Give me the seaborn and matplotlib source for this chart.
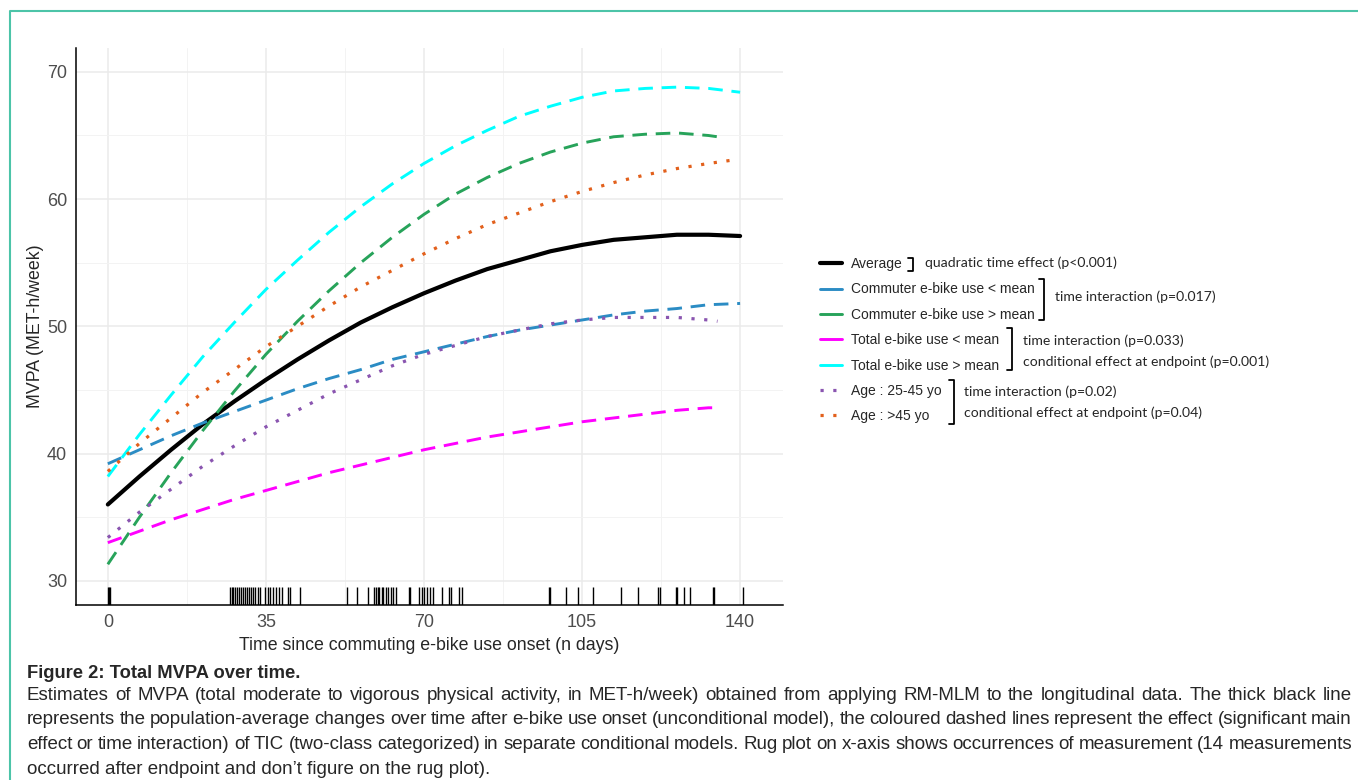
import numpy as np
import pandas as pd
import seaborn as sns
import matplotlib.pyplot as plt
from matplotlib.lines import Line2D

# values (MVPA, MET-h/week)
days = [0, 7, 14, 21, 28, 35, 42, 49, 56, 63, 70, 77, 84, 91, 98, 105, 112, 119, 126, 133, 140]
days_135 = [0, 7, 14, 21, 28, 35, 42, 49, 56, 63, 70, 77, 84, 91, 98, 105, 112, 119, 126, 133, 135]
days_139 = [0, 7, 14, 21, 28, 35, 42, 49, 56, 63, 70, 77, 84, 91, 98, 105, 112, 119, 126, 133, 139]

average = [36.0, 38.2, 40.3, 42.3, 44.1, 45.8, 47.4, 48.9, 50.3, 51.5, 52.6,
           53.6, 54.5, 55.2, 55.9, 56.4, 56.8, 57.0, 57.2, 57.2, 57.1]
commuter_low = [39.2, 40.3, 41.4, 42.4, 43.3, 44.2, 45.1, 45.9, 46.6, 47.4, 48.0,
                48.6, 49.2, 49.7, 50.1, 50.5, 50.9, 51.2, 51.4, 51.7, 51.8]
commuter_high = [31.3, 35.0, 38.5, 41.8, 44.9, 47.8, 50.4, 52.8, 55.0, 57.0, 58.8,
                 60.4, 61.7, 62.8, 63.7, 64.4, 64.9, 65.1, 65.2, 65.0, 64.9]
total_low = [33.0, 33.9, 34.8, 35.6, 36.4, 37.1, 37.8, 38.5, 39.1, 39.7, 40.3,
             40.8, 41.3, 41.7, 42.1, 42.5, 42.8, 43.1, 43.4, 43.6, 43.6]
total_high = [38.2, 41.5, 44.6, 47.6, 50.3, 52.9, 55.2, 57.4, 59.4, 61.2, 62.8,
              64.2, 65.4, 66.5, 67.3, 68.0, 68.5, 68.7, 68.8, 68.7, 68.4]
age_25_45 = [33.4, 35.4, 37.2, 39.0, 40.6, 42.1, 43.4, 44.7, 45.8, 46.9, 47.8,
             48.5, 49.2, 49.7, 50.2, 50.5, 50.7, 50.7, 50.7, 50.5, 50.4]
age_45 = [38.6, 40.8, 42.8, 44.8, 46.6, 48.4, 50.0, 51.6, 53.1, 54.4, 55.7,
          56.9, 58.0, 58.9, 59.8, 60.6, 61.3, 61.9, 62.4, 62.8, 63.1]

# measurement occasions (rug)
rug_days = [0, 0.2, 0.4,
            27.0, 27.4, 27.8, 28.2, 28.6, 29.0, 29.5, 29.9, 30.3, 30.8, 31.2, 31.6,
            32.1, 32.6, 33.2, 33.8, 34.8, 35.5, 36.0, 36.6, 37.2, 37.8, 38.5, 39.9,
            40.3, 42.5,
            52.9, 55.1, 57.5, 59.0, 59.4, 59.8, 60.1, 60.6, 61.0, 61.6, 62.0, 62.7,
            63.1, 63.7, 66.7, 66.9, 69.0, 69.5, 70.1, 70.6, 71.3, 72.1, 73.9, 75.5,
            75.9, 77.8, 78.4,
            97.6, 97.9, 101.4, 104.2, 107.5, 113.6, 117.3, 121.9, 122.3, 125.7, 126.0,
            127.6, 128.9, 133.9, 134.2, 140.7]

labels = ["Average", "Commuter e-bike use < mean", "Commuter e-bike use > mean",
          "Total e-bike use < mean", "Total e-bike use > mean",
          "Age : 25-45 yo", "Age : >45 yo"]

sns.set_theme(style="whitegrid")
plt.rcParams['font.family'] = ['Liberation Sans', 'DejaVu Sans']

W, H = 1358, 780
fig = plt.figure(figsize=(W / 100, H / 100), dpi=100)
ax = fig.add_axes([76 / W, 1 - 605 / H, (783 - 76) / W, (605 - 47.7) / H])


def fx(x):
    return x / W


def fy(y):
    return 1 - y / H


dash = (0, (5, 3))
dot = (0, (1, 3))
series = [
    (days, average, "black", "-", 3.0),
    (days, commuter_low, "#2b8cc4", dash, 2.1),
    (days_135, commuter_high, "#27a35a", dash, 2.1),
    (days_135, total_low, "#ff00ff", dash, 2.1),
    (days, total_high, "#00ffff", dash, 2.1),
    (days_135, age_25_45, "#8a55b0", dot, 2.3),
    (days_139, age_45, "#e2601c", dot, 2.3),
]

for d, v, c, ls, lw in series:
    df = pd.DataFrame({"day": d, "mvpa": v})
    sns.lineplot(data=df, x="day", y="mvpa", ax=ax, color=c, linestyle=ls,
                 linewidth=lw, errorbar=None)

sns.rugplot(x=rug_days, ax=ax, height=0.032, color="black", lw=1.0,
            expand_margins=False)

ax.set_xlim(-7.05, 149.5)
ax.set_ylim(28.1, 71.9)
ax.set_xticks([0, 35, 70, 105, 140])
ax.set_xticks([17.5, 52.5, 87.5, 122.5], minor=True)
ax.set_yticks([30, 40, 50, 60, 70])
ax.set_yticks([35, 45, 55, 65], minor=True)
ax.grid(which="major", color="#ebebeb", lw=1.1)
ax.grid(which="minor", color="#f3f3f3", lw=0.7)
ax.tick_params(which="major", length=3.5, width=0.8, color="#333333",
               labelcolor="#4d4d4d", labelsize=13, pad=3)
ax.tick_params(which="minor", length=0)
for s in ["top", "right"]:
    ax.spines[s].set_visible(False)
for s in ["left", "bottom"]:
    ax.spines[s].set_color("black")
    ax.spines[s].set_linewidth(1.1)
ax.set_facecolor("white")
ax.set_xlabel("Time since commuting e-bike use onset (n days)", fontsize=12.8, labelpad=4)
ax.set_ylabel("MVPA (MET-h/week)", fontsize=12.8, labelpad=2)

# legend (dashed entries shown as a single short stroke, as in the original)
handles = [Line2D([], [], color=c, linewidth=lw,
                  linestyle=dot if ls == dot else "-") for _, _, c, ls, lw in series]
fig.legend(handles, labels, loc="upper left", bbox_to_anchor=(fx(820), fy(257)),
           frameon=False, fontsize=10, handlelength=1.6, handletextpad=0.6,
           labelspacing=0.82, borderpad=0, borderaxespad=0)


def bracket(x, y0, y1, w=5):
    fig.add_artist(Line2D([fx(x - w), fx(x), fx(x), fx(x - w)],
                          [fy(y0), fy(y0), fy(y1), fy(y1)],
                          transform=fig.transFigure, color="black", lw=1.3))


bracket(913, 258, 271)
bracket(1044, 279, 320)
bracket(1012, 328, 370)
bracket(954, 380, 424)

note_font = dict(fontsize=10.1, family=["Lato", "DejaVu Sans"], va="center", ha="left")
fig.text(fx(925), fy(263), "quadratic time effect (p<0.001)", **note_font)
fig.text(fx(1055), fy(297), "time interaction (p=0.017)", **note_font)
fig.text(fx(1023), fy(341), "time interaction (p=0.033)", **note_font)
fig.text(fx(1023), fy(362), "conditional effect at endpoint (p=0.001)", **note_font)
fig.text(fx(964), fy(392), "time interaction (p=0.02)", **note_font)
fig.text(fx(964), fy(413), "conditional effect at endpoint (p=0.04)", **note_font)

# caption
fig.text(fx(27), fy(673), "Figure 2: Total MVPA over time.", fontsize=13.2,
         fontweight="bold", va="center")
caption = [
    "Estimates of MVPA (total moderate to vigorous physical activity, in MET-h/week) obtained from applying RM-MLM to the longitudinal data. The thick black line",
    "represents the population-average changes over time after e-bike use onset (unconditional model), the coloured dashed lines represent the effect (significant main",
    "effect or time interaction) of TIC (two-class categorized) in separate conditional models. Rug plot on x-axis shows occurrences of measurement (14 measurements",
    "occurred after endpoint and don\u2019t figure on the rug plot).",
]
body_size = 13.5
renderer = fig.canvas.get_renderer()
for i, line in enumerate(caption):
    y = fy(695 + 24.7 * i)
    if i == len(caption) - 1:
        fig.text(fx(27), y, line, fontsize=body_size, va="center")
        continue
    # justified lines, as in the journal layout
    words = line.split(" ")
    objs = [fig.text(0, y, w, fontsize=body_size, va="center") for w in words]
    widths = [t.get_window_extent(renderer).width for t in objs]
    gap = (1352 - 27 - sum(widths)) / (len(words) - 1)
    x = 27
    for t, w in zip(objs, widths):
        t.set_x(fx(x))
        x += w + gap

# page frame
fig.add_artist(Line2D([fx(9.5), fx(9.5), fx(1358)], [0, fy(11), fy(11)],
                      transform=fig.transFigure, color="#4cc4a8", lw=1.5))

fig.savefig("out.png", dpi=100, facecolor="white")
